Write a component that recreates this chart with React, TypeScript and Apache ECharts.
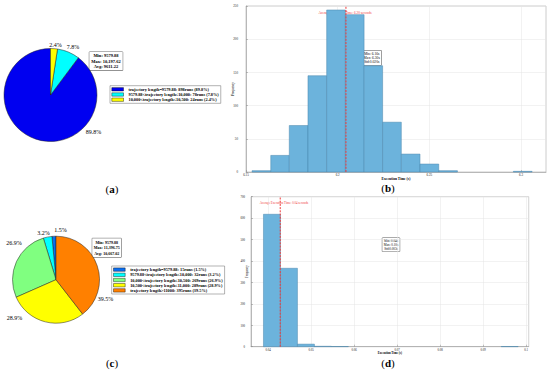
import React, { useEffect, useRef } from 'react';
import * as echarts from 'echarts';

const serif = '"Liberation Serif","Times New Roman",serif';

// ---- (a) pie ----
const pieARanges = ['trajectory length=9579.88', '9579.88<trajectory length\u226410,000', '10,000<trajectory length\u226410,500'];
const pieARuns = [898, 78, 24];
const pieAColors = ['#0000f0', '#00ffff', '#ffff00'];
const pieAStats = ['Min: 9579.88', 'Max: 10,197.62', 'Avg: 9611.22'];

// ---- (c) pie ----
const pieCRanges = [
  'trajectory length=9579.88',
  '9579.88<trajectory length\u226410,000',
  '10,000<trajectory length\u226410,500',
  '10,500<trajectory length\u226411,000',
  'trajectory length>11000',
];
const pieCRuns = [15, 32, 269, 289, 395];
const pieCColors = ['#0a6ef0', '#00ffff', '#80ff80', '#ffff00', '#ff8000'];
const pieCStats = ['Min: 9579.88', 'Max: 11,396.75', 'Avg: 10,667.02'];

// ---- (b) histogram ----
const histBEdges = [6.1533, 6.1635, 6.1736, 6.1838, 6.194, 6.2042, 6.2144, 6.2245, 6.2347, 6.2449, 6.2551, 6.2653, 6.2755, 6.2857, 6.2958, 6.306];
const histBCounts = [2, 25, 70, 145, 244, 237, 160, 75, 27, 12, 2, 0, 0, 0, 1];
const histBAvg = 6.2045;
const histBStats = ['Min: 6.16s', 'Max: 6.30s', 'Std:0.020s'];
const histBAvgText = 'Average Execution Time: 6.20 seconds';

// ---- (d) histogram ----
const histDEdges = [0.0389, 0.04285, 0.0468, 0.05075, 0.0547, 0.05865, 0.0626, 0.06655, 0.0705, 0.07445, 0.0784, 0.08235, 0.0863, 0.09025, 0.0942, 0.09815];
const histDCounts = [618, 366, 12, 2, 1, 0, 0, 0, 0, 0, 0, 0, 0, 0, 1];
const histDAvg = 0.0428;
const histDStats = ['Min: 0.04s', 'Max: 0.10s', 'Std:0.003s'];
const histDAvgText = 'Average Execution Time: 0.04 seconds';

const captions = ['a', 'b', 'c', 'd'];

const TOTAL_A = pieARuns.reduce((s, v) => s + v, 0);
const TOTAL_C = pieCRuns.reduce((s, v) => s + v, 0);
const namesA = pieARanges.map((r, i) => `${r}: ${pieARuns[i]}runs (${((pieARuns[i] / TOTAL_A) * 100).toFixed(1)}%)`);
const namesC = pieCRanges.map((r, i) => `${r}: ${pieCRuns[i]}runs (${((pieCRuns[i] / TOTAL_C) * 100).toFixed(1)}%)`);

const barFill = '#6cb3dc';
const barEdge = '#4a86ad';
const redLine = '#f03a3a';

function histData(edges: number[], counts: number[]) {
  const out: number[][] = [];
  counts.forEach((c, i) => {
    if (c > 0) out.push([edges[i], edges[i + 1], c]);
  });
  return out;
}

const renderBar = (_params: any, api: any) => {
  const a = api.coord([api.value(0), api.value(2)]);
  const b = api.coord([api.value(1), 0]);
  return {
    type: 'rect',
    shape: { x: a[0], y: a[1], width: b[0] - a[0], height: b[1] - a[1] },
    style: { fill: barFill, stroke: barEdge, lineWidth: 0.5 },
  };
};

const fmtNum = (v: number) => String(+v.toFixed(4));

function pieSeries(center: number[], radius: number, names: string[], runs: number[], colors: string[], labelPos: number[][]) {
  return {
    type: 'pie',
    center,
    radius,
    startAngle: 90,
    clockwise: false,
    silent: true,
    avoidLabelOverlap: false,
    data: runs.map((v, i) => ({ value: v, name: names[i], itemStyle: { color: colors[i] } })),
    itemStyle: { borderColor: '#222', borderWidth: 0.5 },
    label: {
      show: true,
      position: 'outside',
      formatter: (p: any) => `${p.percent.toFixed(1)}%`,
      fontSize: 6,
      fontFamily: serif,
      color: '#000',
    },
    labelLine: { show: false },
    labelLayout: (p: any) => ({
      x: labelPos[p.dataIndex][0],
      y: labelPos[p.dataIndex][1],
      align: 'center',
      verticalAlign: 'middle',
    }),
    emphasis: { disabled: true },
  };
}

function legendFor(names: string[], left: number, top: number) {
  return {
    left,
    top,
    orient: 'vertical',
    data: names,
    icon: 'rect',
    itemWidth: 11.7,
    itemHeight: 3.4,
    itemGap: 1.2,
    padding: [1.6, 2, 1.6, 1.6],
    borderColor: '#666',
    borderWidth: 0.5,
    backgroundColor: '#fff',
    selectedMode: false,
    itemStyle: { borderColor: '#000', borderWidth: 0.4 },
    textStyle: { fontSize: 4.3, fontWeight: 'bold', fontFamily: serif, color: '#000' },
  };
}

function boxText(lines: string[], x: number, y: number, fontSize: number, lineHeight: number, bold: boolean, pad: number[]) {
  return {
    type: 'text',
    x,
    y,
    silent: true,
    style: {
      text: lines.join('\n'),
      align: 'center',
      verticalAlign: 'middle',
      fontSize,
      lineHeight,
      fontWeight: bold ? 'bold' : 'normal',
      fontFamily: serif,
      fill: '#000',
      backgroundColor: '#fff',
      borderColor: '#555',
      borderWidth: 0.5,
      padding: pad,
    },
  };
}

function plainText(text: string, x: number, y: number, fontSize: number, fill: string) {
  return {
    type: 'text',
    x,
    y,
    silent: true,
    style: { text, align: 'center', verticalAlign: 'middle', fontSize, fontFamily: serif, fill },
  };
}

function caption(letter: string, x: number, y: number) {
  return {
    type: 'text',
    x,
    y,
    silent: true,
    style: {
      text: `{p|(}{b|${letter}}{p|)}`,
      align: 'center',
      verticalAlign: 'middle',
      rich: {
        p: { fontSize: 11, fontFamily: serif, fill: '#000' },
        b: { fontSize: 11, fontFamily: serif, fontWeight: 'bold', fill: '#000' },
      },
    },
  };
}

const axisLineStyle = { color: '#8a8a8a', width: 0.5 };
const splitStyle = { color: '#e4e4e4', width: 0.5 };

export default function App() {
  const ref = useRef<HTMLDivElement>(null);

  useEffect(() => {
    if (!ref.current) return;
    const chart = echarts.init(ref.current, null, { renderer: 'svg' });

    const option: any = {
      animation: false,
      backgroundColor: '#fff',
      textStyle: { fontFamily: serif },
      legend: [legendFor(namesA, 110, 85.7), legendFor(namesC, 111.7, 266)],
      grid: [
        { left: 246, top: 6, width: 300, height: 166, show: true, borderColor: '#9a9a9a', borderWidth: 0.5, containLabel: false, outerBoundsMode: 'none' },
        { left: 251, top: 196.7, width: 277.7, height: 150, show: true, borderColor: '#9a9a9a', borderWidth: 0.5, containLabel: false, outerBoundsMode: 'none' },
      ],
      xAxis: [
        {
          type: 'value',
          gridIndex: 0,
          min: 6.15,
          max: 6.3136,
          interval: 0.05,
          axisLine: { show: true, lineStyle: axisLineStyle },
          axisTick: { show: true, inside: true, length: 2, lineStyle: axisLineStyle },
          axisLabel: { fontSize: 3.2, margin: 1.5, color: '#222', fontFamily: serif, formatter: fmtNum, showMaxLabel: false },
          splitLine: { show: true, lineStyle: splitStyle },
          name: 'Execution Time (s)',
          nameLocation: 'middle',
          nameGap: 4.5,
          nameMoveOverlap: false,
          nameTextStyle: { fontSize: 3.6, fontWeight: 'bold', fontFamily: serif, color: '#000' },
        },
        {
          type: 'value',
          gridIndex: 1,
          min: 0.036,
          max: 0.1006,
          splitNumber: 7,
          axisLine: { show: true, lineStyle: axisLineStyle },
          axisTick: { show: true, inside: true, length: 2, lineStyle: axisLineStyle },
          axisLabel: { fontSize: 3, margin: 1.2, color: '#222', fontFamily: serif, formatter: fmtNum, showMinLabel: false, showMaxLabel: false },
          splitLine: { show: true, lineStyle: splitStyle },
          name: 'Execution Time (s)',
          nameLocation: 'middle',
          nameGap: 4,
          nameMoveOverlap: false,
          nameTextStyle: { fontSize: 3, fontWeight: 'bold', fontFamily: serif, color: '#000' },
        },
      ],
      yAxis: [
        {
          type: 'value',
          gridIndex: 0,
          min: 0,
          max: 250,
          interval: 50,
          axisLine: { show: true, lineStyle: axisLineStyle },
          axisTick: { show: true, inside: true, length: 2, lineStyle: axisLineStyle },
          axisLabel: { fontSize: 3.2, margin: 8, color: '#222', fontFamily: serif },
          splitLine: { show: true, lineStyle: splitStyle },
          name: 'Frequency',
          nameLocation: 'middle',
          nameGap: 12,
          nameMoveOverlap: false,
          nameTextStyle: { fontSize: 3.2, fontFamily: serif, color: '#000' },
        },
        {
          type: 'value',
          gridIndex: 1,
          min: 0,
          max: 700,
          interval: 100,
          axisLine: { show: true, lineStyle: axisLineStyle },
          axisTick: { show: true, inside: true, length: 2, lineStyle: axisLineStyle },
          axisLabel: { fontSize: 3, margin: 6, color: '#222', fontFamily: serif },
          splitLine: { show: true, lineStyle: splitStyle },
          name: 'Frequency',
          nameLocation: 'middle',
          nameGap: 2.5,
          nameMoveOverlap: false,
          nameTextStyle: { fontSize: 3, fontFamily: serif, color: '#000' },
        },
      ],
      series: [
        pieSeries([50.5, 95], 46.5, namesA, pieARuns, pieAColors, [[93.5, 131.5], [73, 47], [55.5, 45]]),
        pieSeries([56, 279.7], 43.5, namesC, pieCRuns, pieCColors, [[60.5, 230], [43.5, 233], [14, 242.7], [14.5, 318.3], [105.5, 299.3]]),
        {
          type: 'custom',
          xAxisIndex: 0,
          yAxisIndex: 0,
          silent: true,
          renderItem: renderBar,
          encode: { x: [0, 1], y: 2 },
          data: histData(histBEdges, histBCounts),
        },
        {
          type: 'custom',
          xAxisIndex: 1,
          yAxisIndex: 1,
          silent: true,
          renderItem: renderBar,
          encode: { x: [0, 1], y: 2 },
          data: histData(histDEdges, histDCounts),
        },
        {
          type: 'line',
          xAxisIndex: 0,
          yAxisIndex: 0,
          silent: true,
          symbol: 'none',
          data: [[histBAvg, 0], [histBAvg, 250]],
          lineStyle: { color: redLine, width: 1, type: [2, 1.2] },
        },
        {
          type: 'line',
          xAxisIndex: 1,
          yAxisIndex: 1,
          silent: true,
          symbol: 'none',
          data: [[histDAvg, 0], [histDAvg, 700]],
          lineStyle: { color: redLine, width: 1, type: [2, 1.2] },
        },
      ],
      graphic: [
        boxText(pieAStats, 106, 61.2, 4.5, 5.3, true, [1.2, 2]),
        boxText(pieCStats, 106.7, 247.8, 4.0, 5.3, true, [1.5, 1.5]),
        boxText(histBStats, 371.7, 57.9, 3.6, 4.2, false, [1, 1.5]),
        boxText(histDStats, 391, 244.7, 3.2, 3.8, false, [1, 1.5]),
        plainText(histBAvgText, 345, 13.3, 3.4, redLine),
        plainText(histDAvgText, 284, 202.7, 3.1, redLine),
        caption(captions[0], 112, 189),
        caption(captions[1], 388, 188),
        caption(captions[2], 112, 362.7),
        caption(captions[3], 388, 362.7),
      ],
    };

    chart.setOption(option);
    return () => chart.dispose();
  }, []);

  return <div ref={ref} style={{ position: 'fixed', left: 0, top: 0, width: 550, height: 370, background: '#fff' }} />;
}
